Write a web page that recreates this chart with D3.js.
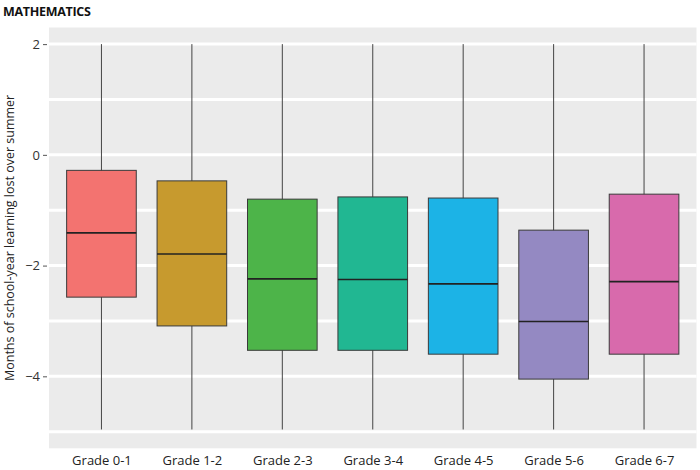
<!DOCTYPE html>
<html>
<head>
  <meta charset="UTF-8">
  <style>
    body { margin: 0; padding: 0; background: #fff; font-family: "Open Sans", sans-serif; }
    svg { display: block; }
  </style>
</head>
<body>
<svg></svg>
<script src="https://d3js.org/d3.v7.min.js"></script>
<script>
  // chart data
  const grades = ["Grade 0-1", "Grade 1-2", "Grade 2-3", "Grade 3-4", "Grade 4-5", "Grade 5-6", "Grade 6-7"];
  const q1 = [-2.57, -3.09, -3.53, -3.53, -3.60, -4.05, -3.60];
  const medians = [-1.41, -1.79, -2.24, -2.25, -2.33, -3.01, -2.29];
  const q3 = [-0.28, -0.47, -0.80, -0.76, -0.78, -1.36, -0.71];
  const whiskLow = [-4.96, -4.96, -4.96, -4.96, -4.96, -4.96, -4.96];
  const whiskHigh = [2, 2, 2, 2, 2, 2, 2];
  const colors = ["#f37370", "#c79a2e", "#4db449", "#21b792", "#1cb3e6", "#9489c2", "#d86aac"];
  const yTicks = [2, 0, -2, -4];
  const yMinor = [1, -1, -3, -5];

  let width = 700, height = 470;
  let panel = { left: 49, right: 696.5, top: 27.5, bottom: 448.3 };

  let svg = d3.select("svg").attr("width", width).attr("height", height);

  let x = d3.scalePoint()
      .domain(grades)
      .range([panel.left, panel.right])
      .padding(0.58);

  let y = d3.scaleLinear()
      .domain([-5.30, 2.30])
      .range([panel.bottom, panel.top]);

  let boxW = x.step() * 0.77;

  // panel background
  svg.append("rect")
      .attr("x", panel.left).attr("y", panel.top)
      .attr("width", panel.right - panel.left)
      .attr("height", panel.bottom - panel.top)
      .attr("fill", "#ebebeb");

  // grid lines
  svg.append("g").selectAll("line")
      .data(yTicks.concat(yMinor))
      .enter().append("line")
      .attr("x1", panel.left).attr("x2", panel.right)
      .attr("y1", d => y(d)).attr("y2", d => y(d))
      .attr("stroke", "#fff")
      .attr("stroke-width", 3);

  // y axis
  let yAxis = svg.append("g")
      .attr("transform", `translate(${panel.left},0)`)
      .call(d3.axisLeft(y).tickValues(yTicks).tickSize(5).tickPadding(4).tickFormat(d3.format("d")));
  yAxis.select(".domain").remove();
  yAxis.selectAll(".tick line").attr("stroke", "#555").attr("x1", -2).attr("x2", -6);
  yAxis.selectAll(".tick text")
      .attr("font-family", "Open Sans, sans-serif")
      .attr("font-size", "13px")
      .attr("fill", "#333");

  // x axis labels
  let xAxis = svg.append("g")
      .attr("transform", `translate(0,${panel.bottom})`)
      .call(d3.axisBottom(x).tickSize(0).tickPadding(7));
  xAxis.select(".domain").remove();
  xAxis.selectAll(".tick text")
      .attr("font-family", "Open Sans, sans-serif")
      .attr("font-size", "13px")
      .attr("fill", "#222");

  // boxes
  let boxes = svg.append("g").selectAll("g")
      .data(grades)
      .enter().append("g");

  boxes.append("line")
      .attr("x1", d => x(d)).attr("x2", d => x(d))
      .attr("y1", (d, i) => y(whiskHigh[i]))
      .attr("y2", (d, i) => y(whiskLow[i]))
      .attr("stroke", "#444")
      .attr("stroke-width", 1);

  boxes.append("rect")
      .attr("x", d => x(d) - boxW / 2)
      .attr("width", boxW)
      .attr("y", (d, i) => y(q3[i]))
      .attr("height", (d, i) => y(q1[i]) - y(q3[i]))
      .attr("fill", (d, i) => colors[i])
      .attr("stroke", "#3a3a3a")
      .attr("stroke-width", 1);

  boxes.append("line")
      .attr("x1", d => x(d) - boxW / 2).attr("x2", d => x(d) + boxW / 2)
      .attr("y1", (d, i) => y(medians[i])).attr("y2", (d, i) => y(medians[i]))
      .attr("stroke", "#222")
      .attr("stroke-width", 1.6);

  // title
  svg.append("text")
      .attr("x", 3).attr("y", 16)
      .attr("font-family", "Open Sans, sans-serif")
      .attr("font-size", "12.5px")
      .attr("font-weight", "bold")
      .attr("letter-spacing", "-0.3")
      .attr("fill", "#111")
      .text("MATHEMATICS");

  // y axis title
  svg.append("text")
      .attr("transform", `translate(14,${(panel.top + panel.bottom) / 2}) rotate(-90)`)
      .attr("text-anchor", "middle")
      .attr("font-family", "Open Sans, sans-serif")
      .attr("font-size", "12.5px")
      .attr("fill", "#222")
      .text("Months of school-year learning lost over summer");
</script>
</body>
</html>
